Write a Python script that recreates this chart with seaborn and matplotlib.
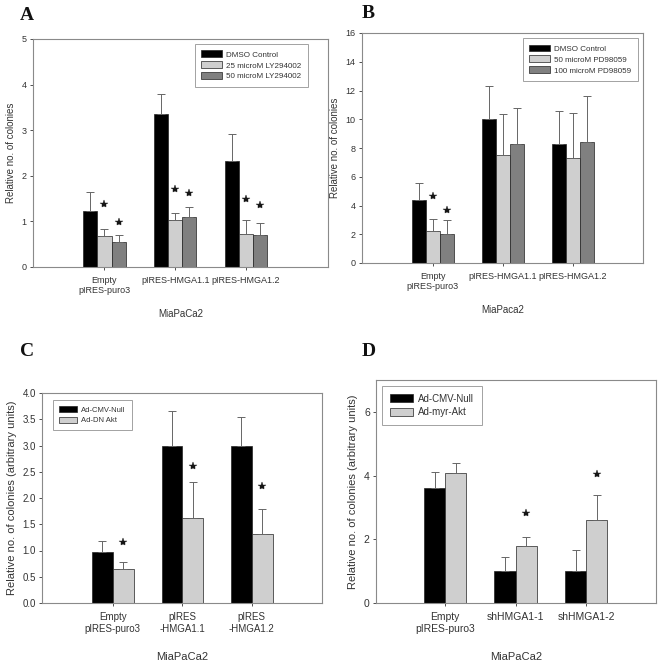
import matplotlib
matplotlib.use("Agg")
import matplotlib.pyplot as plt
import seaborn as sns
import pandas as pd
import numpy as np

sns.set_style("white")
plt.rcParams['font.family'] = ['Liberation Sans', 'DejaVu Sans']

# ---------------- Data ----------------
# Panel A
a_groups = ["Empty\npIRES-puro3", "pIRES-HMGA1.1", "pIRES-HMGA1.2"]
a_series = ["DMSO Control", "25 microM LY294002", "50 microM LY294002"]
a_values = [[1.23, 3.35, 2.32], [0.68, 1.04, 0.73], [0.54, 1.10, 0.71]]
a_errtop = [[1.65, 3.79, 2.92], [0.83, 1.19, 1.02], [0.71, 1.31, 0.97]]
a_stars = [[None, None, None], [1.38, 1.72, 1.50], [0.99, 1.63, 1.36]]

# Panel B
b_groups = ["Empty\npIRES-puro3", "pIRES-HMGA1.1", "pIRES-HMGA1.2"]
b_series = ["DMSO Control", "50 microM PD98059", "100 microM PD98059"]
b_values = [[4.4, 10.0, 8.3], [2.2, 7.5, 7.3], [2.0, 8.3, 8.4]]
b_errtop = [[5.55, 12.3, 10.6], [3.05, 10.35, 10.45], [3.0, 10.8, 11.65]]
b_stars = [[None, None, None], [4.69, None, None], [3.71, None, None]]

# Panel C
c_groups = ["Empty\npIRES-puro3", "pIRES\n-HMGA1.1", "pIRES\n-HMGA1.2"]
c_series = ["Ad-CMV-Null", "Ad-DN Akt"]
c_values = [[0.97, 3.0, 3.0], [0.65, 1.62, 1.32]]
c_errtop = [[1.18, 3.65, 3.55], [0.79, 2.30, 1.80]]
c_stars = [[None, None, None], [1.17, 2.61, 2.22]]

# Panel D
d_groups = ["Empty\npIRES-puro3", "shHMGA1-1", "shHMGA1-2"]
d_series = ["Ad-CMV-Null", "Ad-myr-Akt"]
d_values = [[3.6, 1.0, 1.0], [4.08, 1.78, 2.6]]
d_errtop = [[4.1, 1.43, 1.67], [4.38, 2.06, 3.38]]
d_stars = [[None, None, None], [None, 2.83, 4.06]]

colors3 = ["#000000", "#cfcfcf", "#808080"]
colors2 = ["#000000", "#cfcfcf"]
TXT = "#333333"
SPINE = "#8a8a8a"

fig = plt.figure(figsize=(6.62, 6.64), dpi=100)

def panel(rect, groups, series, values, errtop, stars, colors, ylim, yticks,
          ylabel, xlabel, xlim, fmt, tick_fs, lab_fs, leg_fs, leg_loc,
          leg_anchor, letter, letter_xy, xlabel_pad, leg_hl=2.6):
    ax = fig.add_axes(rect)
    rows = []
    for s, vals in zip(series, values):
        for g, v in zip(groups, vals):
            rows.append({"group": g, "series": s, "value": v})
    df = pd.DataFrame(rows)
    sns.barplot(data=df, x="group", y="value", hue="series", order=groups,
                hue_order=series, palette=colors, width=0.6, errorbar=None,
                edgecolor="#222222", linewidth=0.5, saturation=1, ax=ax)
    # error bars (upper only) and stars
    sx, sy = [], []
    for i, s in enumerate(series):
        cont = ax.containers[i]
        for j, bar in enumerate(cont):
            x = bar.get_x() + bar.get_width() / 2
            y = values[i][j]
            up = errtop[i][j] - y
            ax.errorbar([x], [y], yerr=[[0], [up]], fmt="none",
                        ecolor="#666666", elinewidth=0.7, capsize=3,
                        capthick=0.7, zorder=1)
            if stars[i][j] is not None:
                sx.append(x)
                sy.append(stars[i][j])
    ax.plot(sx, sy, linestyle="none", marker="*", markersize=6,
            color="#151515", markeredgewidth=0.3, zorder=5)
    ax.set_xlim(*xlim)
    ax.set_ylim(*ylim)
    ax.set_yticks(yticks)
    ax.set_yticklabels([fmt.format(t) for t in yticks])
    ax.set_ylabel(ylabel, fontsize=lab_fs, color=TXT, labelpad=4)
    ax.set_xlabel(xlabel, fontsize=lab_fs, color=TXT, labelpad=xlabel_pad)
    ax.tick_params(axis="y", labelsize=tick_fs, colors=TXT, length=2.5,
                   width=0.6, direction="out", pad=2, left=True)
    ax.tick_params(axis="x", labelsize=tick_fs, colors=TXT, length=2.5,
                   width=0.6, direction="out", pad=4, bottom=True)
    for sp in ax.spines.values():
        sp.set_color(SPINE)
        sp.set_linewidth(0.8)
    leg = ax.legend(loc=leg_loc, bbox_to_anchor=leg_anchor, fontsize=leg_fs,
                    frameon=True, fancybox=False, edgecolor=SPINE,
                    handlelength=leg_hl, handleheight=0.9, borderpad=0.8,
                    labelspacing=0.35, handletextpad=0.5, borderaxespad=0)
    leg.get_frame().set_linewidth(0.7)
    for t in leg.get_texts():
        t.set_color(TXT)
    fig.text(letter_xy[0] / 662, 1 - letter_xy[1] / 664, letter,
             fontsize=14, fontweight="bold", family="Liberation Serif",
             ha="left", va="center", color="#111111")
    return ax

H = 664.0
W = 662.0
def rect(l, t, r, b):
    return [l / W, (H - b) / H, (r - l) / W, (b - t) / H]

panel(rect(33, 39, 328, 267), a_groups, a_series, a_values, a_errtop, a_stars,
      colors3, (0, 5), [0, 1, 2, 3, 4, 5], "Relative no. of colonies",
      "MiaPaCa2", (-1.01, 3.16), "{:.0f}", 6.5, 7, 5.8, "upper right",
      (0.932, 0.978), "A", (20, 15), 10)

panel(rect(362, 33, 643, 263), b_groups, b_series, b_values, b_errtop, b_stars,
      colors3, (0, 16), [0, 2, 4, 6, 8, 10, 12, 14, 16],
      "Relative no. of colonies", "MiaPaca2", (-1.01, 3.0), "{:.0f}", 6.5, 7,
      5.8, "upper right", (0.982, 0.978), "B", (362, 14), 10)

panel(rect(42, 393, 322, 603), c_groups, c_series, c_values, c_errtop, c_stars,
      colors2, (0, 4), [0, 0.5, 1, 1.5, 2, 2.5, 3, 3.5, 4],
      "Relative no. of colonies (arbitrary units)", "MiaPaCa2", (-1.02, 3.01),
      "{:.1f}", 7, 8, 5.5, "upper left", (0.039, 0.967), "C", (20, 352), 13,
      leg_hl=2.4)

panel(rect(376, 380, 656, 603), d_groups, d_series, d_values, d_errtop, d_stars,
      colors2, (0, 7), [0, 2, 4, 6],
      "Relative no. of colonies (arbitrary units)", "MiaPaCa2", (-0.98, 2.99),
      "{:.0f}", 7.5, 8, 7, "upper left", (0.021, 0.973), "D", (362, 352), 13,
      leg_hl=2.4)

fig.savefig("out.png", dpi=100, facecolor="white")
